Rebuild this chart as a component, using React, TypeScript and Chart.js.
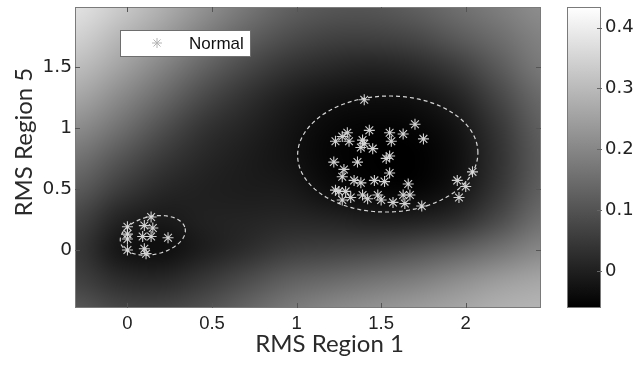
import React, { useEffect, useRef } from "react";
import { Chart, registerables } from "chart.js";
Chart.register(...registerables);

// ---- data ----
const normalX = [
  0.14, 0.1, 0.15, 0, 0, 0, 0.09, 0.14, 0.24, 0, 0.1, 0.11,
  1.4, 1.7, 1.43, 1.55, 1.63, 1.75, 1.56, 1.3, 1.27, 1.23, 1.31, 1.39, 1.38, 1.45, 1.4,
  1.55, 1.53, 1.22, 1.36, 1.28, 1.27, 1.55, 1.34, 1.38, 1.46, 1.52, 1.66, 1.95, 2.04,
  2.0, 1.96, 1.25, 1.29, 1.27, 1.32, 1.39, 1.42, 1.48, 1.5, 1.57, 1.63, 1.67, 1.64, 1.74, 1.23,
];
const normalY = [
  0.27, 0.2, 0.18, 0.19, 0.13, 0.09, 0.11, 0.11, 0.1, 0, 0.01, -0.03,
  1.23, 1.03, 0.98, 0.96, 0.95, 0.91, 0.89, 0.96, 0.93, 0.89, 0.89, 0.9, 0.84, 0.83, 0.87,
  0.77, 0.75, 0.72, 0.72, 0.66, 0.6, 0.63, 0.57, 0.55, 0.57, 0.56, 0.54, 0.57, 0.64,
  0.52, 0.43, 0.48, 0.48, 0.41, 0.43, 0.45, 0.42, 0.45, 0.41, 0.39, 0.45, 0.45, 0.38, 0.36, 0.49,
];

const xTicks = [0, 0.5, 1, 1.5, 2];
const yTicks = [0, 0.5, 1, 1.5];
const colorTicks = [0, 0.1, 0.2, 0.3, 0.4];
const xRange = [-0.31, 2.445];
const yRange = [-0.475, 1.99];
const colorRange = [-0.061, 0.434];

// background field sampled on a regular grid (rows bottom -> top)
const gridX = [-0.3, -0.05, 0.2, 0.45, 0.7, 0.95, 1.2, 1.45, 1.7, 1.95, 2.2, 2.45];
const gridY = [-0.5, -0.25, 0, 0.25, 0.5, 0.75, 1.0, 1.25, 1.5, 1.75, 2.0];
const fieldRow0 = [0.105, 0.076, 0.072, 0.095, 0.134, 0.173, 0.202, 0.222, 0.241, 0.26, 0.28, 0.289];
const fieldRow1 = [0.066, 0.027, 0.018, 0.047, 0.086, 0.124, 0.144, 0.163, 0.183, 0.212, 0.241, 0.26];
const fieldRow2 = [0.047, -0.017, -0.031, -0.002, 0.027, 0.056, 0.066, 0.076, 0.095, 0.124, 0.163, 0.202];
const fieldRow3 = [0.07, 0.008, -0.011, 0.002, 0.008, 0.014, 0.008, -0.002, 0.002, 0.027, 0.086, 0.153];
const fieldRow4 = [0.115, 0.058, 0.018, 0.002, -0.006, -0.011, -0.037, -0.05, -0.05, -0.021, 0.047, 0.124];
const fieldRow5 = [0.16, 0.105, 0.052, 0.016, -0.006, -0.025, -0.05, -0.06, -0.06, -0.031, 0.037, 0.115];
const fieldRow6 = [0.21, 0.158, 0.095, 0.04, 0.008, -0.021, -0.045, -0.054, -0.05, -0.021, 0.047, 0.124];
const fieldRow7 = [0.26, 0.207, 0.145, 0.082, 0.035, -0.002, -0.025, -0.031, -0.025, 0.008, 0.076, 0.144];
const fieldRow8 = [0.305, 0.255, 0.195, 0.132, 0.08, 0.04, 0.018, 0.008, 0.021, 0.056, 0.115, 0.173];
const fieldRow9 = [0.345, 0.295, 0.242, 0.182, 0.13, 0.09, 0.068, 0.066, 0.08, 0.115, 0.153, 0.192];
const fieldRow10 = [0.375, 0.332, 0.28, 0.222, 0.17, 0.128, 0.107, 0.105, 0.124, 0.153, 0.183, 0.212];
const fieldRows = [fieldRow0, fieldRow1, fieldRow2, fieldRow3, fieldRow4, fieldRow5, fieldRow6, fieldRow7, fieldRow8, fieldRow9, fieldRow10];

// ellipses: center x, center y, axis-1 (dx, dy), axis-2 (dx, dy) in data units
const ellipseSmall = [0.15, 0.12, 0.191, 0.057, 0.0234, -0.152];
const ellipseLarge = [1.539, 0.786, 0.533, 0.01, 0.0, 0.475];
const ellipses = [ellipseSmall, ellipseLarge];

const legendLabel = "Normal";

// ---- helpers ----
const TICK_FONT = "Liberation Sans, Arial, sans-serif";
const WIDE_FONT = "DejaVu Sans, Liberation Sans, sans-serif";
const TITLE_FONT = "Lato, Carlito, Calibri, sans-serif";

function cr(p0: number, p1: number, p2: number, p3: number, t: number) {
  return p1 + 0.5 * t * (p2 - p0 + t * (2 * p0 - 5 * p1 + 4 * p2 - p3 + t * (3 * (p1 - p2) + p3 - p0)));
}
function sampleField(x: number, y: number) {
  const nx = gridX.length, ny = gridY.length;
  const fx = (x - gridX[0]) / (gridX[1] - gridX[0]);
  const fy = (y - gridY[0]) / (gridY[1] - gridY[0]);
  const ix = Math.max(0, Math.min(nx - 2, Math.floor(fx)));
  const iy = Math.max(0, Math.min(ny - 2, Math.floor(fy)));
  const tx = Math.max(0, Math.min(1, fx - ix));
  const ty = Math.max(0, Math.min(1, fy - iy));
  const get = (i: number, j: number) => fieldRows[Math.max(0, Math.min(ny - 1, j))][Math.max(0, Math.min(nx - 1, i))];
  const r = [-1, 0, 1, 2].map((dj) => cr(get(ix - 1, iy + dj), get(ix, iy + dj), get(ix + 1, iy + dj), get(ix + 2, iy + dj), tx));
  return cr(r[0], r[1], r[2], r[3], ty);
}

let bgCache: { key: string; canvas: HTMLCanvasElement } | null = null;

const decorPlugin = {
  id: "decor",
  beforeDatasetsDraw(chart: any) {
    const { ctx, chartArea: ca, scales } = chart;
    const xs = scales.x, ys = scales.y;
    const L = Math.round(ca.left), T = Math.round(ca.top);
    const W = Math.round(ca.right) - L, H = Math.round(ca.bottom) - T;
    const key = `${L},${T},${W},${H}`;
    if (!bgCache || bgCache.key !== key) {
      const off = document.createElement("canvas");
      off.width = W; off.height = H;
      const octx = off.getContext("2d")!;
      const img = octx.createImageData(W, H);
      for (let py = 0; py < H; py++) {
        const yv = ys.getValueForPixel(T + py + 0.5);
        for (let px = 0; px < W; px++) {
          const xv = xs.getValueForPixel(L + px + 0.5);
          const v = sampleField(xv, yv);
          let g = ((v - colorRange[0]) / (colorRange[1] - colorRange[0])) * 255;
          g = Math.max(0, Math.min(255, g));
          const k = (py * W + px) * 4;
          img.data[k] = g; img.data[k + 1] = g; img.data[k + 2] = g; img.data[k + 3] = 255;
        }
      }
      octx.putImageData(img, 0, 0);
      bgCache = { key, canvas: off };
    }
    ctx.drawImage(bgCache.canvas, L, T);

    // ellipses
    ctx.save();
    ctx.beginPath();
    ctx.rect(ca.left, ca.top, ca.right - ca.left, ca.bottom - ca.top);
    ctx.clip();
    ctx.strokeStyle = "rgba(225,225,225,0.95)";
    ctx.lineWidth = 1.2;
    ctx.setLineDash([4, 3]);
    for (const e of ellipses) {
      ctx.beginPath();
      const n = 160;
      for (let i = 0; i <= n; i++) {
        const t = (i / n) * Math.PI * 2;
        const dx = e[0] + e[2] * Math.cos(t) + e[4] * Math.sin(t);
        const dy = e[1] + e[3] * Math.cos(t) + e[5] * Math.sin(t);
        const px = xs.getPixelForValue(dx), py = ys.getPixelForValue(dy);
        if (i === 0) ctx.moveTo(px, py); else ctx.lineTo(px, py);
      }
      ctx.stroke();
    }
    ctx.restore();
  },
  afterDraw(chart: any) {
    const { ctx, chartArea: ca, scales } = chart;
    const xs = scales.x, ys = scales.y, cs = scales.c;
    ctx.save();
    // plot border
    ctx.strokeStyle = "#7a7a7a";
    ctx.lineWidth = 1;
    ctx.setLineDash([]);
    ctx.strokeRect(Math.round(ca.left) + 0.5, Math.round(ca.top) + 0.5, Math.round(ca.right - ca.left) - 1, Math.round(ca.bottom - ca.top) - 1);
    // inner ticks
    ctx.strokeStyle = "#555";
    const tl = 5;
    ctx.beginPath();
    for (const v of xTicks) {
      const px = Math.round(xs.getPixelForValue(v)) + 0.5;
      ctx.moveTo(px, ca.bottom); ctx.lineTo(px, ca.bottom - tl);
      ctx.moveTo(px, ca.top); ctx.lineTo(px, ca.top + tl);
    }
    for (const v of yTicks) {
      const py = Math.round(ys.getPixelForValue(v)) + 0.5;
      ctx.moveTo(ca.left, py); ctx.lineTo(ca.left + tl, py);
      ctx.moveTo(ca.right, py); ctx.lineTo(ca.right - tl, py);
    }
    ctx.stroke();

    // legend box
    const lx = ca.left + 45, ly = ca.top + 23, lw = 130, lh = 26;
    ctx.fillStyle = "#ffffff";
    ctx.fillRect(lx, ly, lw, lh);
    ctx.strokeStyle = "#6e6e6e";
    ctx.strokeRect(Math.round(lx) + 0.5, Math.round(ly) + 0.5, lw, lh);
    // legend marker (asterisk)
    const mx = lx + 37, my = ly + lh / 2, r = 5;
    ctx.strokeStyle = "#b4b4b4";
    ctx.beginPath();
    for (let k = 0; k < 4; k++) {
      const a = (k * Math.PI) / 4;
      ctx.moveTo(mx - r * Math.cos(a), my - r * Math.sin(a));
      ctx.lineTo(mx + r * Math.cos(a), my + r * Math.sin(a));
    }
    ctx.stroke();
    ctx.fillStyle = "#111";
    ctx.font = `17px ${TICK_FONT}`;
    ctx.textAlign = "left";
    ctx.textBaseline = "middle";
    ctx.fillText(legendLabel, lx + 69, my + 1);

    // colorbar
    const cbL = 567, cbR = 601;
    const cTop = cs.getPixelForValue(colorRange[1]);
    const cBot = cs.getPixelForValue(colorRange[0]);
    const grad = ctx.createLinearGradient(0, cBot, 0, cTop);
    grad.addColorStop(0, "#000");
    grad.addColorStop(1, "#fff");
    ctx.fillStyle = grad;
    ctx.fillRect(cbL, cTop, cbR - cbL, cBot - cTop);
    ctx.strokeStyle = "#7a7a7a";
    ctx.strokeRect(cbL + 0.5, Math.round(cTop) + 0.5, cbR - cbL - 1, Math.round(cBot - cTop) - 1);
    ctx.strokeStyle = "#666";
    ctx.beginPath();
    for (const v of colorTicks) {
      const py = Math.round(cs.getPixelForValue(v)) + 0.5;
      ctx.moveTo(cbR - 4, py); ctx.lineTo(cbR + 1, py);
    }
    ctx.stroke();
    ctx.restore();
  },
};

const zeroPad = (s: any) => { s.paddingTop = 0; s.paddingBottom = 0; s.paddingLeft = 0; s.paddingRight = 0; };

export default function App() {
  const ref = useRef<HTMLCanvasElement | null>(null);
  useEffect(() => {
    if (!ref.current) return;
    const data = normalX.map((x, i) => ({ x, y: normalY[i] }));
    const chart = new Chart(ref.current, {
      type: "scatter",
      data: {
        datasets: [
          {
            label: legendLabel,
            data,
            pointStyle: "star",
            radius: 5.5,
            borderColor: "rgba(220,220,220,0.95)",
            backgroundColor: "rgba(220,220,220,0.95)",
            borderWidth: 1.1,
          },
        ],
      },
      options: {
        responsive: false,
        animation: false,
        layout: { padding: { top: 7, left: 0, right: 0, bottom: 0 } },
        plugins: { legend: { display: false }, tooltip: { enabled: false } },
        scales: {
          x: {
            type: "linear",
            min: xRange[0],
            max: xRange[1],
            afterBuildTicks: (s: any) => { s.ticks = xTicks.map((value) => ({ value })); },
            afterFit: (s: any) => { s.height = 63; zeroPad(s); },
            ticks: { callback: (v: any) => String(v), font: { family: TICK_FONT, size: 18.5 }, color: "#222", padding: 5, maxRotation: 0 },
            grid: { display: false, drawTicks: false },
            border: { display: false },
            title: {
              display: true,
              text: "       RMS Region 1",
              font: { family: TITLE_FONT, size: 24 },
              color: "#2a2a2a",
              padding: { top: 0, bottom: 12 },
            },
          },
          y: {
            type: "linear",
            min: yRange[0],
            max: yRange[1],
            afterBuildTicks: (s: any) => { s.ticks = yTicks.map((value) => ({ value })); },
            afterFit: (s: any) => { s.width = 75; zeroPad(s); },
            ticks: { callback: (v: any) => String(v), font: { family: WIDE_FONT, size: 18.5 }, color: "#222", padding: 3 },
            grid: { display: false, drawTicks: false },
            border: { display: false },
            title: {
              display: true,
              text: "     RMS Region 5",
              font: { family: TITLE_FONT, size: 24 },
              color: "#2a2a2a",
              padding: { top: 10, bottom: 0 },
            },
          },
          c: {
            type: "linear",
            position: "right",
            min: colorRange[0],
            max: colorRange[1],
            afterBuildTicks: (s: any) => { s.ticks = colorTicks.map((value) => ({ value })); },
            afterFit: (s: any) => { s.width = 94; zeroPad(s); },
            ticks: { callback: (v: any) => String(v), font: { family: WIDE_FONT, size: 18 }, color: "#222", padding: 64 },
            grid: { display: false, drawTicks: false },
            border: { display: false },
          },
        },
      },
      plugins: [decorPlugin],
    } as any);
    return () => chart.destroy();
  }, []);
  return (
    <div style={{ position: "fixed", left: 0, top: 0, width: 635, height: 371, background: "#fff" }}>
      <canvas ref={ref} width={635} height={371} style={{ display: "block" }} />
    </div>
  );
}
